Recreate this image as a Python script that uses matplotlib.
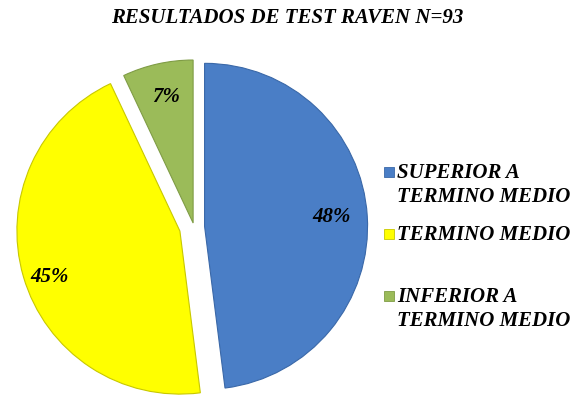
import matplotlib
matplotlib.use("Agg")
import matplotlib.pyplot as plt
from matplotlib.patches import Rectangle

# datos del grafico
categorias = ["SUPERIOR A\nTERMINO MEDIO", "TERMINO MEDIO", "INFERIOR A\nTERMINO MEDIO"]
porcentajes = [48, 45, 7]
colores = ["#4a7ec6", "#ffff00", "#9bbb59"]
bordes = ["#3a68a8", "#c8c800", "#7f9c45"]
titulo = "RESULTADOS DE TEST RAVEN N=93"

fuente = dict(family="Liberation Serif", weight="bold", style="italic")

fig = plt.figure(figsize=(5.77, 4.02), dpi=100)
W, H = 577, 402

# pie: centro ~ (194, 228) px desde arriba, radio ~163 px
cx, cy, r = 194, 402 - 228, 163
lim = 1.25
ax = fig.add_axes([(cx - lim * r) / W, (cy - lim * r) / H, 2 * lim * r / W, 2 * lim * r / H])
ax.set_xlim(-lim, lim)
ax.set_ylim(-lim, lim)
ax.set_aspect("equal")
ax.axis("off")

wedges, textos = ax.pie(porcentajes, colors=colores, startangle=90, counterclock=False,
                        explode=[0.065, 0.09, 0.025], radius=1.0,
                        labels=[f"{p}%" for p in porcentajes], labeldistance=None,
                        wedgeprops=dict(linewidth=0.8))
for w, b in zip(wedges, bordes):
    w.set_edgecolor(b)

# etiquetas de porcentaje (posicion en px)
pos_etiquetas = [(332, 217), (50, 277), (166, 97)]
for (x, y), p in zip(pos_etiquetas, porcentajes):
    fig.text(x / W, 1 - y / H, f"{p}%", ha="center", va="center", fontsize=15,
             color="black", **fuente)

fig.text(287 / W, 1 - 18 / H, titulo, ha="center", va="center", fontsize=15, **fuente)

# leyenda manual
for i, (cat, col, b) in enumerate(zip(categorias, colores, bordes)):
    yc = 173 + 62 * i
    fig.patches.append(Rectangle((384 / W, 1 - (yc + 5) / H), 10 / W, 10 / H,
                                 transform=fig.transFigure, facecolor=col,
                                 edgecolor=b, linewidth=0.6))
    for j, linea in enumerate(cat.split("\n")):
        fig.text(397 / W, 1 - (yc + 24 * j) / H, linea, ha="left", va="center",
                 fontsize=15, **fuente)

fig.savefig("out.png", dpi=100)
